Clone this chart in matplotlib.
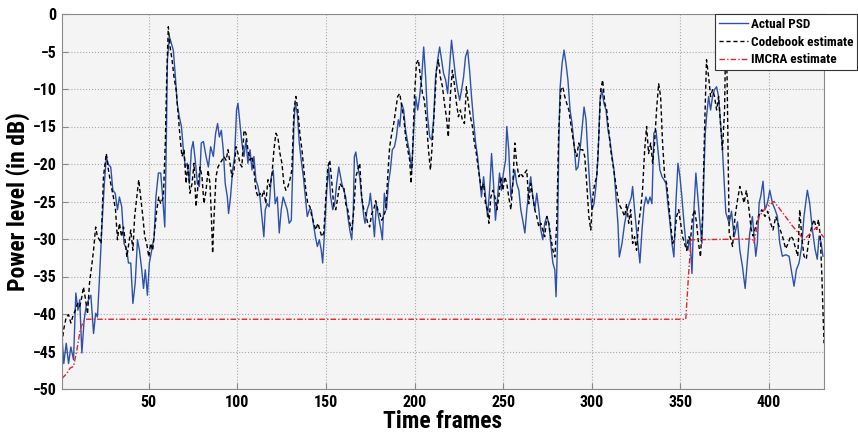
import matplotlib
matplotlib.use('Agg')
import matplotlib.pyplot as plt
from matplotlib import font_manager

# frame index / power (dB)
actual_f = [1, 2, 3.4, 4.7, 6, 7.5, 8.8, 10, 11, 12.2, 13.5, 14.6, 16, 17.3, 18.8, 20, 21, 22.2, 23.5, 24.8,
            26, 27.2, 28.5, 29.7, 31, 32.3, 33.4, 34.7, 36, 37.6, 38.5, 39.8, 41, 42.3, 43.6, 44.7, 46, 47, 48, 49.2,
            50.3, 51.6, 53, 54, 55.4, 56.7, 57.8, 59, 59.7, 60.5, 61.6, 62.7, 63.8, 65, 66, 67.2, 68.4, 69.5, 70.6, 71.7,
            72.9, 74, 75, 76.2, 77.4, 78.5, 79.6, 80.8, 82.3, 83.6, 84.9, 86.4, 87.7, 88.8, 89.8, 90.9, 92, 93.1, 94.3, 95,
            96.1, 97.3, 98.4, 99.5, 100.3, 101.4, 102.5, 103.7, 104.8, 105.9, 107.1, 108.2, 109.3, 110.4, 111.6, 112.7, 113.4, 114.2, 114.9, 115.7,
            116.8, 117.9, 119.1, 120.2, 121.3, 122.5, 123.6, 124.7, 125.8, 127, 128.1, 129.2, 130.4, 131.1, 131.9, 132.6, 133.8, 134.9, 136, 137.2,
            138.3, 139.4, 140.6, 141.7, 142.8, 144, 145.1, 146.2, 147.3, 148.1, 149.2, 150.4, 151.5, 152.6, 153.8, 154.9, 156, 157.2, 158.9, 160,
            161.1, 162.3, 163.4, 164.5, 165.3, 166, 166.8, 167.9, 169, 170.1, 171.3, 172, 173.2, 174.3, 175, 176.2, 177.3, 178.4, 179.6, 180.7,
            181.8, 182.9, 184.1, 185.2, 186.3, 187.4, 188.6, 189.7, 190.8, 191.6, 192.7, 193.8, 194.9, 196.1, 197.2, 198.3, 199.5, 200.6, 201.7, 202.8,
            204, 205.1, 206.2, 207.3, 208.5, 209.6, 210.7, 211.8, 213, 214.1, 215.2, 216.3, 217.5, 218.6, 219.7, 220.8, 222, 223.1, 224.2, 225.4,
            226.5, 227.6, 228.7, 229.9, 231, 232.1, 233.2, 234.4, 235.5, 236.6, 237.7, 238.9, 240, 241.1, 242.3, 243.4, 244.5, 245.6, 246.8, 247.9,
            249, 250.1, 251.3, 252, 253.1, 254.3, 255.4, 256.5, 257.6, 258.8, 259.9, 261, 262.2, 263.3, 264.4, 265.5, 266.7, 267.8, 268.9, 270.1,
            271.2, 272.3, 273.4, 274.6, 275.7, 276.8, 278, 279.1, 279.8, 280.6, 281.3, 282, 283.2, 284.3, 285.4, 286.5, 287.7, 288.8, 289.9, 291.1,
            292.2, 293.3, 294.4, 295.6, 296.7, 297.8, 299, 300.1, 301.2, 302.3, 303.5, 304.6, 305.7, 306.8, 308, 309.1, 310.2, 311.4, 312.5, 313.6,
            314.7, 315.5, 317, 318.5, 320, 321.1, 322.3, 323, 324.1, 325.2, 326.4, 327.1, 328.3, 329.4, 330.5, 331.7, 332.8, 333.9, 335, 336.2,
            337.3, 338.4, 339.6, 340.7, 341.8, 342.9, 344.1, 345.2, 346.3, 347.4, 348.6, 349.7, 350.8, 352, 353.1, 354.2, 355.3, 356.5, 357.6, 358.7,
            359.8, 361, 362.1, 363.2, 364, 364.7, 365.9, 367, 368.1, 369.2, 370.4, 371.5, 372.6,
            373.7, 375.6, 377.5, 378.8, 380.3, 382.2, 383.5, 385, 386.5, 387.8, 389.1, 390.6, 392.5, 393.4, 394.4, 395.3, 396.6, 397.7, 399.1, 400.4,
            401.9, 403.4, 404.7, 406, 407.5, 409.4, 411.3, 412.8, 414.1, 415.4, 416.9, 418.4, 419.7, 421.6, 422.9, 424.4, 425.9, 427.2, 428.2, 429.4,
            430.4]
actual_db = [-43, -46.6, -43.9, -46.6, -44.4, -46.1, -37.2, -39.5, -38.1, -45.2, -40.8, -39, -38.1, -37.5, -42.6, -39.9, -40.4, -35, -28.4, -23,
             -19, -20.1, -20.4, -23.5, -23.9, -26.1, -24.4, -25.7, -30.6, -31.5, -33.2, -33.2, -38.6, -35.9, -30.1, -31.5, -34.1, -36.6, -34.1, -37.5,
             -33.2, -31.5, -29.7, -24.4, -21.2, -21.2, -24.4, -28.4, -19.5, -6.1, -3, -3.9, -4.8, -8.4, -11.9, -13.7, -15, -18.1, -20.4, -19.9,
             -22.6, -18.1, -17, -19.5, -22.6, -23, -17.2, -17, -19, -20.4, -17.7, -19, -15.9, -14.6, -16.4, -15.5, -18.1, -22.6, -24.4, -26.6,
             -24.4, -20.8, -19, -12.8, -11.9, -14.6, -17.2, -19, -16.8, -19.9, -18.1, -20.8, -19, -22.1, -23, -24.4, -26.1, -27.9, -29.7, -26.1,
             -25.3, -25.7, -21.7, -20.8, -25.3, -24.4, -29.2, -26.1, -24.4, -25.3, -26.1, -27.9, -27.5, -21.7, -14.6, -11.9, -13.3, -17.2, -19.5, -21.7,
             -24.4, -27, -26.1, -26.1, -27.9, -29.7, -31, -30.1, -31.5, -33.2, -28.8, -23.5, -20.4, -24.4, -26.1, -25.3, -22.6, -20.4, -22.6, -23.5,
             -24.4, -27, -28.8, -30.1, -27, -19, -18.4, -20.4, -21.7, -24.4, -27, -27.9, -26.1, -25.3, -23.9, -26.6, -29.7, -25.3, -27, -28.4,
             -30.1, -23.9, -26.1, -22.6, -20.8, -18.1, -17.7, -16.4, -14.1, -15, -11.9, -12.8, -15.5, -17.2, -18.6, -20.8, -15.5, -11, -12.8, -11,
             -8.4, -4.4, -8.4, -13.7, -16.4, -16.8, -14.1, -8.4, -6.1, -4.4, -6.1, -7.9, -8.8, -10.6, -7, -3.5, -6.1, -8.4, -10.1, -11.5,
             -10.1, -8.4, -5.7, -4.8, -7.5, -11, -14.1, -17.2, -19, -21.7, -24.4, -21.7, -24.4, -27, -23.5, -18.6, -22.6, -27.5, -24.4, -21.2,
             -23.5, -21.2, -19.5, -15, -18.1, -24.4, -22.6, -20.8, -22.6, -23.5, -26.1, -27.5, -29.2, -26.1, -23.5, -21.7, -24.4, -26.1, -23.9, -26.1,
             -28.8, -30.1, -27.9, -27, -27.9, -30.6, -33.2, -34.1, -37.7, -30.6, -18.1, -10.1, -6.6, -4.8, -6.6, -8.8, -12.8, -14.6, -17.2, -20.8,
             -20.4, -18.1, -15.5, -12.4, -14.1, -19, -23.5, -26.1, -25.3, -23, -19, -11.5, -10.1, -11.9, -12.8, -15.5, -16.8, -19, -20.8, -24.4,
             -27.9, -32.4, -30.6, -27.9, -26.1, -25.3, -24.4, -23, -26.1, -28.8, -31.5, -33.2, -28.8, -25.7, -24.4, -25.3, -24.4, -25.3, -15.9, -15.5,
             -18.1, -20.8, -21.7, -22.1, -22.6, -25.3, -27.9, -30.6, -32.4, -25.3, -19.9, -21.7, -24.4, -27.9, -30.6, -31.5, -29.7, -34.6, -26.1, -21.2,
             -24.4, -27.9, -30.6, -21.7, -15.9, -13.7, -11, -12.8, -11, -10.1, -9.7, -11, -14.6,
             -18.1, -26.5, -27.9, -26.3, -29.7, -27.7, -31.5, -33.7, -36.6, -32.8, -29.2, -27, -32.3, -30.5, -25.2, -24.3, -22.3, -26.1, -25.2, -23.5,
             -25.2, -26.1, -27, -30.5, -32.3, -32.1, -32.3, -34.5, -36.3, -34.1, -33.2, -31, -27, -23.5, -25.2, -28.7, -31.3, -32.7, -29.6, -30.5,
             -32.3]

codebook_f = [1, 2, 3.4, 4.7, 6, 7, 8.5, 9.8, 11, 12.2, 13.1, 14.3, 15.4, 16.5, 17.7, 18.8, 20, 21, 22.2, 23,
              23.5, 24.4, 26, 27.2, 28.5, 30, 31.2, 32.3, 33.4, 34.6, 35.7, 36.8, 37.6, 38.7, 39.8, 41, 42, 43.2, 44.3, 45.4,
              46.6, 47.7, 48.8, 50, 51, 52.2, 53.3, 54.5, 55.6, 56.7, 58.2, 59.3, 60.1, 61, 62, 63.1, 64.2, 65.4, 66.5, 67.6,
              68.7, 69.9, 71, 72.1, 73.2, 74.4, 75.5, 76.6, 77.7, 78.9, 80, 81.1, 82.3, 83.4, 84.5, 85.3, 86, 86.8, 87.9, 89,
              90.2, 91.3, 92.4, 93.6, 94.7, 95.8, 96.9, 98.1, 99.2, 100.3, 101.4, 102.5, 103.7, 104.8, 105.9, 107.1, 108.2, 109.3, 110.4, 111.6,
              112.7, 113.8, 114.9, 116, 117.2, 118.3, 119.4, 120.6, 121.7, 122.8, 124, 125.1, 126.2, 127.3, 128.5, 129.6, 130.7, 131.9, 133, 134.1,
              135.2, 136.4, 137.5, 138.6, 139.7, 140.9, 142, 143.1, 144.2, 145.4, 146.5, 147.6, 148.7, 149.9, 151, 152.1, 153.3, 154.4, 155.5, 156.6,
              157.8, 158.9, 160, 161.1, 162.3, 163.4, 164.5, 165.7, 166.8, 167.9, 169, 170.1, 171.3, 172.4, 173.5, 174.6, 175.8, 176.9, 178, 179.2,
              180.3, 181.4, 182.5, 183.7, 184.8, 185.9, 187.1, 188.2, 189.3, 190.4, 191.6, 192.7, 193.8, 194.9, 196.1, 197.2, 198, 198.7, 199.9, 201,
              202.1, 203.3, 204.4, 205.5, 206.6, 207.8, 208.9, 210, 211.1, 212.3, 213.4, 214.5, 215.7, 216.8, 217.9, 219, 220.2, 221.3, 222.4, 223.6,
              224.7, 225.8, 226.9, 228.1, 229.2, 230.3, 231.5, 232.6, 233.7, 234.8, 236, 237.7, 238.9, 240, 241.1, 241.9, 243, 244.1, 245.3, 246.4,
              247.5, 248.6, 249.8, 250.9, 252, 253.1, 254.3, 255.4, 256.5, 257.6, 258.8, 259.9, 261, 262.2, 263.3, 264.4, 265.5, 266.7, 267.8, 268.9,
              270.1, 271.2, 272.3, 273.4, 274.6, 275.7, 276.8, 278, 279.1, 280.2, 281.3, 282.5, 283.6, 284.7, 285.8, 287, 288.1, 289.2, 290.4, 291.5,
              292.6, 293.7, 294.9, 296, 297.1, 298.3, 299.4, 300.5, 301.6, 302.8, 303.9, 305, 306.1, 307.3, 308.4, 309.5, 310.6, 311.8, 312.9, 314,
              315.2, 317, 318.5, 319.6, 320.8, 321.9, 323, 324.1, 325.2, 326.4, 327.5, 328.6, 329.8, 330.9, 332, 333.2, 334.3, 335.4, 336.5, 337.7,
              338.8, 339.9, 341.1, 342.2, 343.3, 344.4, 345.6, 346.7, 347.8, 349, 350.1, 351.2, 352.3, 353.5, 354.6, 355.7, 356.8, 358, 359.1, 360.2,
              361.3, 362.5, 363.6, 364.7, 365.9, 367, 368.1, 369.2, 370.4, 371.5, 372.6, 373.7, 374.9, 375.6, 376.3,
              377.5, 379.4, 380.8, 382.2, 383.5, 384.6, 385.9, 387.2, 388.7, 389.9, 391, 392.5, 394, 395.9, 397.7, 399.2, 400.9, 402.2, 403.8, 405.6,
              407.5, 409.4, 410.9, 412.2, 413.5, 415, 416.2, 417.3, 418.4, 419.7, 421, 422.5, 424.1, 425.4, 426.8, 427.9, 428.9, 429.8, 430.4, 431]
codebook_db = [-43.9, -42, -40.4, -40.1, -41.2, -40.4, -39.5, -38.6, -39, -37.7, -36.4, -38.1, -40, -35.9, -33.7, -31.5, -28.4, -29.7, -30.1, -30.6,
               -27.9, -21.7, -18.6, -20.8, -22.6, -24.4, -26.1, -30.1, -27.9, -29.7, -28.4, -30.6, -32.4, -30.6, -28.8, -31.5, -27, -24.4, -22.1, -24.4,
               -27, -29.7, -30.6, -32.4, -30.6, -31.5, -28.8, -26.1, -24.4, -25.3, -24.4, -17.2, -8.4, -1.7, -4.4, -6.1, -8.4, -10.1, -13.2, -16.4,
               -19, -18.1, -22.6, -19.9, -23.9, -22.6, -19.9, -25.7, -23, -20.4, -21.7, -25.3, -23.5, -20.8, -22.6, -27, -31.9, -27, -21.7, -20.4,
               -19.9, -19.5, -19, -19.5, -18.1, -19.9, -21.7, -20.8, -17.7, -18.6, -19.9, -20.4, -15.5, -15.9, -18.1, -19.5, -19, -20.8, -23.5, -24.4,
               -23.9, -24.4, -23.5, -25.3, -22.1, -23, -21.7, -18.1, -15.9, -16.4, -18.6, -19.9, -22.6, -23.5, -23, -22.1, -20.8, -12.8, -11, -12.8,
               -15.9, -18.1, -20.8, -23.5, -25.3, -25.7, -27, -27.9, -28.8, -27.9, -28.8, -29.7, -29.2, -24.4, -20.4, -19.5, -22.6, -25.7, -26.1, -24.4,
               -22.6, -23, -23, -25.3, -26.1, -27.9, -28.8, -26.1, -21.7, -20.8, -19.9, -24.4, -26.1, -26.6, -27.9, -28.4, -26.6, -26.1, -24.9, -26.1,
               -26.6, -27.5, -27, -26.1, -21.7, -17.7, -15.9, -14.6, -12.8, -11, -10.6, -12.3, -13.7, -16.4, -18.1, -19.5, -22.6, -19.5, -11, -6.6,
               -6.1, -8.4, -10.6, -11.5, -14.1, -18.1, -20.8, -17.2, -12.8, -7.5, -6.1, -8.4, -9.7, -11.9, -13.7, -16.4, -10.6, -7.5, -9.3, -11.9,
               -13.7, -12.8, -14.1, -14.6, -9.7, -11.9, -13.7, -15, -17.2, -18.6, -20.8, -23.5, -22.6, -25.3, -26.1, -27.9, -24.4, -23.5, -24.4, -26.1,
               -24.4, -21.7, -23.5, -21.7, -22.6, -24.4, -26.1, -22.6, -17.2, -19.9, -21.7, -21.2, -21.7, -21.2, -20.8, -25.3, -22.6, -24.4, -26.1, -27,
               -28.4, -27.9, -28.8, -29.7, -27, -27.9, -29.7, -31.5, -32.4, -27.9, -15.5, -10.1, -9.7, -11, -11.9, -12.8, -14.6, -16.4, -18.1, -19,
               -17.2, -18.1, -18.1, -19, -22.6, -27, -28.8, -24.4, -22.6, -21.7, -16.4, -10.1, -8.8, -11.9, -12.8, -15.5, -18.1, -19.9, -21.7, -23.5,
               -25.3, -26.1, -27, -25.3, -27.9, -26.1, -30.6, -29.7, -31.5, -27.9, -26.1, -23.5, -18.1, -15, -18.6, -17.2, -19.9, -17.2, -12.8, -9.3,
               -11, -17.2, -21.7, -22.6, -25.3, -27.9, -30.6, -29.7, -27, -26.1, -27.9, -29.7, -30.6, -31.5, -29.7, -30.1, -27, -26.1, -27.9, -30.6,
               -32.4, -27, -15.5, -6.1, -8.4, -11, -10.1, -11, -12.8, -11, -14.6, -18.1, -12.8, -1.7, -8.4,
               -29.2, -31, -27, -24.8, -23, -23.9, -25.2, -23.5, -26.1, -28.7, -29.6, -28.3, -27, -26.1, -27, -26.3, -27.9, -28.8, -27, -28.3,
               -29.6, -31.3, -30.5, -29.6, -30, -31.3, -32.3, -26.1, -29.6, -32.3, -32.7, -30, -28.3, -27.4, -28.7, -27.4, -29.6, -34.9, -39.3, -43.9]

imcra_f = [1, 3.8, 5.6, 7.5, 9.4, 11.3, 13, 15, 353, 354.5, 356, 390.6, 391.5, 394.4, 398.2, 402.8, 408, 413, 419.7, 422.6,
           426.4, 431]
imcra_db = [-48.6, -47.9, -47.2, -47, -44.8, -42.1, -41, -40.7, -40.7, -35, -30.1, -30, -30.5, -27, -25.8, -25, -26.6, -28.2, -30.1, -29.4,
            -28.5, -29.8]

labels = ['Actual PSD', 'Codebook estimate', 'IMCRA estimate']
xticks = [50, 100, 150, 200, 250, 300, 350, 400]
yticks = [0, -5, -10, -15, -20, -25, -30, -35, -40, -45, -50]

# narrow bold font if one is around
names = set(f.name for f in font_manager.fontManager.ttflist)
fam = 'DejaVu Sans'
for cand in ['Liberation Sans Narrow', 'DejaVu Sans Condensed', 'Roboto Condensed', 'Open Sans Condensed']:
    if cand in names:
        fam = cand
        break
plt.rcParams['font.family'] = [fam, 'DejaVu Sans']
plt.rcParams['font.weight'] = 'bold'

fig = plt.figure(figsize=(8.58, 4.37), dpi=100)
ax = fig.add_axes([62 / 858, 1 - 389 / 437, (824 - 62) / 858, (389 - 14) / 437])
ax.set_facecolor('#f4f4f4')

ax.plot(actual_f, actual_db, color='#2d52ad', lw=1.0, label=labels[0])
ax.plot(codebook_f, codebook_db, color='black', lw=1.0, dashes=(3, 2), label=labels[1])
ax.plot(imcra_f, imcra_db, color='#e3262e', lw=1.0, dashes=(4, 1.5, 1, 1.5), label=labels[2])

ax.set_xlim(1, 431)
ax.set_ylim(-50, 0)
ax.set_xticks(xticks)
ax.set_yticks(yticks)
ax.grid(True, linestyle=':', color='#a8a8a8', linewidth=0.8)
ax.tick_params(direction='in', length=4, color='#888888', labelsize=11.5, pad=4)
for lab in ax.get_xticklabels() + ax.get_yticklabels():
    lab.set_fontweight('bold')
for s in ax.spines.values():
    s.set_color('#8a8a8a')

ax.set_xlabel('Time frames', fontsize=17, fontweight='bold', labelpad=0)
ax.set_ylabel('Power level (in dB)', fontsize=17, fontweight='bold', labelpad=2)

leg = fig.legend(loc='upper right', bbox_to_anchor=(857 / 858, 1 - 14 / 437), fontsize=9.5,
                 handlelength=2.2, handletextpad=0.2, borderpad=0.3, labelspacing=0.35,
                 fancybox=False, framealpha=1, edgecolor='#333333', borderaxespad=0)
leg.get_frame().set_linewidth(0.8)
for t in leg.get_texts():
    t.set_fontweight('bold')

fig.savefig('out.png', dpi=100)
